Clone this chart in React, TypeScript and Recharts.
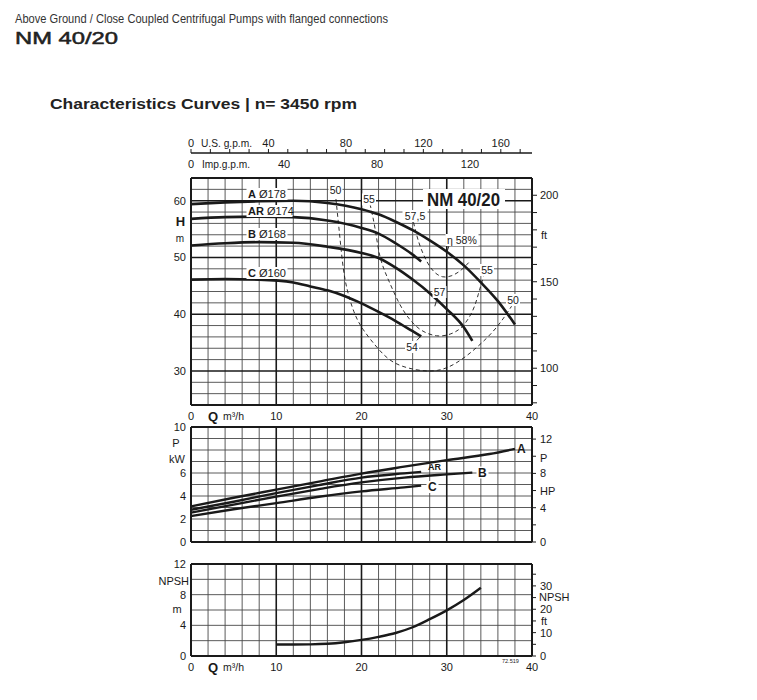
import React from 'react';
import { ComposedChart, Line, XAxis, YAxis, ReferenceLine } from 'recharts';

const FONT = '"Liberation Sans", Arial, Helvetica, sans-serif';
const INK = '#1a1a1a';
const GRID = '#474747';

// ---------- unit conversions for the secondary scales ----------
const M_TO_FT = 3.28084;
const M3H_TO_USGPM = 4.40287;
const M3H_TO_IMPGPM = 3.66615;
const KW_TO_HP = 1.34102;

// ---------- tick values ----------
const qTicks = [0, 10, 20, 30, 40];
const qGrid = [2, 4, 6, 8, 12, 14, 16, 18, 22, 24, 26, 28, 32, 34, 36, 38];
const qHeavy = [10, 20, 30];
const qFrame = [0, 40];

const hTicks = [30, 40, 50, 60];
const hGrid = [26, 28, 32, 34, 36, 38, 42, 44, 46, 48, 52, 54, 56, 58, 62];
const hHeavy = [30, 40, 50, 60];
const hFrame = [24, 64];
const ftTicks = [80, 90, 100, 110, 120, 130, 140, 150, 160, 170, 180, 190, 200];
const ftLabels = [100, 150, 200];

const usTicks = [0, 10, 20, 30, 40, 50, 60, 70, 80, 90, 100, 110, 120, 130, 140, 150, 160, 170];
const usLabels = [0, 40, 80, 120, 160];
const impTicks = [0, 40, 80, 120];

const pTicks = [0, 2, 4, 6, 10];
const pGrid = [1, 2, 3, 4, 5, 6, 7, 8, 9];
const pFrame = [0, 10];
const hpTicks = [0, 2, 4, 6, 8, 10, 12];
const hpLabels = [0, 4, 8, 12];

const nTicks = [0, 4, 8, 12];
const nGrid = [2, 4, 6, 8, 10];
const nFrame = [0, 12];
const nftTicks = [0, 5, 10, 15, 20, 25, 30, 35];
const nftLabels = [0, 10, 20, 30];

// ---------- head curves (Q m3/h, H m) ----------
const headA = [
  { q: 0, h: 59.4 }, { q: 4, h: 59.7 }, { q: 8, h: 59.9 }, { q: 12, h: 60.0 }, { q: 16, h: 59.6 },
  { q: 20, h: 58.5 }, { q: 22, h: 57.6 }, { q: 24, h: 56.3 }, { q: 26, h: 54.8 }, { q: 28, h: 53.0 },
  { q: 30, h: 51.0 }, { q: 32, h: 48.6 }, { q: 34, h: 45.6 }, { q: 36, h: 42.3 }, { q: 38, h: 38.2 },
];
const headAR = [
  { q: 0, h: 56.8 }, { q: 4, h: 57.1 }, { q: 8, h: 57.2 }, { q: 12, h: 57.1 }, { q: 16, h: 56.5 },
  { q: 20, h: 55.2 }, { q: 22, h: 54.2 }, { q: 24, h: 52.5 }, { q: 26, h: 50.5 }, { q: 27, h: 49.3 },
];
const headB = [
  { q: 0, h: 52.1 }, { q: 4, h: 52.5 }, { q: 8, h: 52.7 }, { q: 12, h: 52.6 }, { q: 16, h: 51.9 },
  { q: 20, h: 50.8 }, { q: 22, h: 49.9 }, { q: 24, h: 48.2 }, { q: 26, h: 46.1 }, { q: 28, h: 43.7 },
  { q: 30, h: 40.9 }, { q: 32, h: 37.7 }, { q: 33, h: 35.3 },
];
const headC = [
  { q: 0, h: 46.1 }, { q: 4, h: 46.2 }, { q: 8, h: 46.1 }, { q: 12, h: 45.6 }, { q: 14, h: 44.9 },
  { q: 16, h: 44.2 }, { q: 18, h: 43.2 }, { q: 20, h: 41.9 }, { q: 22, h: 40.4 }, { q: 24, h: 38.8 },
  { q: 26, h: 37.0 }, { q: 27, h: 36.1 },
];

// ---------- iso-efficiency curves ----------
const eff50 = [
  { q: 17.0, h: 60.3 }, { q: 17.5, h: 53.0 }, { q: 18.1, h: 45.9 }, { q: 19.1, h: 40.5 },
  { q: 20.2, h: 37.3 }, { q: 21.8, h: 34.2 }, { q: 23.8, h: 31.5 }, { q: 26.5, h: 30.2 },
  { q: 28.9, h: 30.1 }, { q: 31.2, h: 31.5 }, { q: 33.7, h: 34.4 }, { q: 35.9, h: 37.8 },
  { q: 37.6, h: 41.4 },
];
const eff55 = [
  { q: 21.0, h: 59.4 }, { q: 21.6, h: 55.0 }, { q: 22.2, h: 50.0 }, { q: 23.2, h: 45.9 },
  { q: 24.4, h: 42.0 }, { q: 25.6, h: 39.2 }, { q: 27.0, h: 37.2 }, { q: 28.8, h: 36.2 },
  { q: 30.4, h: 36.5 }, { q: 31.8, h: 37.8 }, { q: 33.0, h: 40.5 }, { q: 33.7, h: 43.5 },
  { q: 34.3, h: 46.6 },
];
const eff575 = [
  { q: 26.1, h: 56.2 }, { q: 26.5, h: 53.8 }, { q: 27.0, h: 51.5 }, { q: 27.7, h: 49.2 },
  { q: 28.5, h: 47.5 }, { q: 29.5, h: 46.6 }, { q: 30.6, h: 46.8 }, { q: 31.7, h: 47.8 },
  { q: 32.7, h: 49.3 },
];
const leader58 = [{ q: 30.3, h: 52.2 }, { q: 30.0, h: 50.9 }];
const leader57 = [{ q: 28.9, h: 42.9 }, { q: 28.6, h: 41.4 }];
const leader54 = [{ q: 26.5, h: 35.4 }, { q: 27.0, h: 36.2 }];

// ---------- power curves (Q m3/h, P kW) ----------
const powerA = [
  { q: 0, p: 3.1 }, { q: 5, p: 3.85 }, { q: 10, p: 4.55 }, { q: 15, p: 5.25 }, { q: 20, p: 5.95 },
  { q: 25, p: 6.55 }, { q: 30, p: 7.12 }, { q: 35, p: 7.65 }, { q: 38, p: 8.1 },
];
const powerAR = [
  { q: 0, p: 2.8 }, { q: 5, p: 3.5 }, { q: 10, p: 4.25 }, { q: 15, p: 4.95 }, { q: 20, p: 5.6 },
  { q: 25, p: 5.97 }, { q: 27, p: 6.1 },
];
const powerB = [
  { q: 0, p: 2.55 }, { q: 5, p: 3.25 }, { q: 10, p: 3.95 }, { q: 15, p: 4.6 }, { q: 20, p: 5.18 },
  { q: 25, p: 5.6 }, { q: 30, p: 5.88 }, { q: 33, p: 6.03 },
];
const powerC = [
  { q: 0, p: 2.25 }, { q: 5, p: 2.85 }, { q: 10, p: 3.38 }, { q: 15, p: 3.93 }, { q: 20, p: 4.4 },
  { q: 25, p: 4.75 }, { q: 27, p: 4.9 },
];

// ---------- NPSH (Q m3/h, NPSH m) ----------
const npsh = [
  { q: 10, n: 1.5 }, { q: 12, n: 1.5 }, { q: 14, n: 1.52 }, { q: 16, n: 1.6 }, { q: 18, n: 1.8 },
  { q: 20, n: 2.1 }, { q: 22, n: 2.5 }, { q: 24, n: 3.0 }, { q: 26, n: 3.75 }, { q: 28, n: 4.8 },
  { q: 30, n: 5.95 }, { q: 32, n: 7.3 }, { q: 34, n: 8.9 },
];

// head curve A re-expressed on the gallon scales (keeps those axes bound to data)
const headAUs = headA.map((d) => ({ g: d.q * M3H_TO_USGPM, h: d.h }));
const headAImp = headA.map((d) => ({ g: d.q * M3H_TO_IMPGPM, h: d.h }));

// ---------- helpers ----------
const gridLines = (xs: number[], ys: number[], heavyX: number[], heavyY: number[], frameX: number[], frameY: number[], yId: string) => [
  ...xs.map((v) => <ReferenceLine key={'gx' + v} xAxisId="q" yAxisId={yId} x={v} stroke={GRID} strokeWidth={0.9} />),
  ...ys.map((v) => <ReferenceLine key={'gy' + v} xAxisId="q" yAxisId={yId} y={v} stroke={GRID} strokeWidth={0.9} />),
  ...heavyX.map((v) => <ReferenceLine key={'hx' + v} xAxisId="q" yAxisId={yId} x={v} stroke={INK} strokeWidth={1.6} />),
  ...heavyY.map((v) => <ReferenceLine key={'hy' + v} xAxisId="q" yAxisId={yId} y={v} stroke={INK} strokeWidth={1.6} />),
  ...frameX.map((v) => <ReferenceLine key={'fx' + v} xAxisId="q" yAxisId={yId} x={v} stroke={INK} strokeWidth={2} />),
  ...frameY.map((v) => <ReferenceLine key={'fy' + v} xAxisId="q" yAxisId={yId} y={v} stroke={INK} strokeWidth={2} />),
];

const sideTick = (labels: number[], anchor: 'start' | 'end') => (props: any) => {
  const { x, y, payload } = props;
  if (!labels.includes(Math.round(payload.value))) return <g />;
  return (
    <text x={x} y={y} dy="0.36em" textAnchor={anchor} fontSize={11} fill={INK} fontFamily={FONT}>
      {payload.value}
    </text>
  );
};

const topTick = (labels: number[]) => (props: any) => {
  const { x, y, payload } = props;
  if (!labels.includes(Math.round(payload.value))) return <g />;
  return (
    <text x={x} y={y} textAnchor="middle" fontSize={11} fill={INK} fontFamily={FONT}>
      {payload.value}
    </text>
  );
};

const tickStyle = { fontSize: 11, fill: INK, fontFamily: FONT };

function Tag({ x, y, w, h = 12, anchor = 'start', size = 10.5, weight = 'normal', children }: any) {
  const left = anchor === 'middle' ? x - w / 2 : anchor === 'end' ? x - w : x;
  return (
    <g>
      <rect x={left - 1.5} y={y - h / 2} width={w + 3} height={h} fill="#fff" />
      <text x={x} y={y} dy="0.36em" textAnchor={anchor} fontSize={size} fontWeight={weight} fill={INK}>
        {children}
      </text>
    </g>
  );
}

function T({ x, y, anchor = 'start', size = 11, weight = 'normal', len, children }: any) {
  return (
    <text x={x} y={y} dy="0.36em" textAnchor={anchor} fontSize={size} fontWeight={weight} fill={INK}
      textLength={len} lengthAdjust={len ? 'spacingAndGlyphs' : undefined}>
      {children}
    </text>
  );
}

const curve = (data: any[], key: string, yId: string, k: string, width = 2.6) => (
  <Line key={k} xAxisId="q" yAxisId={yId} data={data} dataKey={key} type="monotone" stroke={INK}
    strokeWidth={width} dot={false} activeDot={false} isAnimationActive={false} />
);
const dashed = (data: any[], k: string) => (
  <Line key={k} xAxisId="q" yAxisId="m" data={data} dataKey="h" type="natural" stroke={INK}
    strokeWidth={0.9} strokeDasharray="4 3" dot={false} activeDot={false} isAnimationActive={false} />
);
const leader = (data: any[], k: string) => (
  <Line key={k} xAxisId="q" yAxisId="m" data={data} dataKey="h" type="linear" stroke={INK}
    strokeWidth={0.9} dot={false} activeDot={false} isAnimationActive={false} />
);

export default function App() {
  return (
    <div style={{ position: 'absolute', left: 0, top: 0, width: 757, height: 700, background: '#fff', fontFamily: FONT }}>
      {/* Head chart */}
      <div style={{ position: 'absolute', left: 141, top: 120 }}>
        <ComposedChart width={430} height={305} margin={{ top: 8, right: 9, left: 10, bottom: 0 }}>
          <XAxis xAxisId="imp" orientation="top" dataKey="g" type="number" domain={[0, 40 * M3H_TO_IMPGPM]} allowDataOverflow
            ticks={impTicks} interval={0} height={25} axisLine={false} tickLine={false} tickSize={0} tickMargin={10}
            tick={topTick(impTicks)} />
          <XAxis xAxisId="us" orientation="top" dataKey="g" type="number" domain={[0, 40 * M3H_TO_USGPM]} allowDataOverflow
            ticks={usTicks} interval={0} height={25} axisLine={{ stroke: INK, strokeWidth: 1.6 }}
            tickLine={{ stroke: INK }} tickSize={4} tickMargin={2} tick={topTick(usLabels)} />
          <XAxis xAxisId="q" dataKey="q" type="number" domain={[0, 40]} allowDataOverflow ticks={qTicks} interval={0}
            height={20} axisLine={false} tickLine={false} tickSize={0} tickMargin={7} tick={tickStyle} />
          <YAxis yAxisId="m" type="number" domain={[24, 64]} allowDataOverflow ticks={hTicks} interval={0} width={40}
            axisLine={false} tickLine={false} tickSize={0} tickMargin={5} tick={tickStyle} />
          <YAxis yAxisId="ft" orientation="right" type="number" domain={[24 * M_TO_FT, 64 * M_TO_FT]} allowDataOverflow
            ticks={ftTicks} interval={0} width={30} axisLine={false} tickLine={{ stroke: INK }} tickSize={5} tickMargin={3}
            tick={sideTick(ftLabels, 'start')} />
          {gridLines(qGrid, hGrid, qHeavy, hHeavy, qFrame, hFrame, 'm')}
          <Line xAxisId="us" yAxisId="m" data={headAUs} dataKey="h" stroke="transparent" strokeWidth={0}
            dot={false} activeDot={false} isAnimationActive={false} />
          <Line xAxisId="imp" yAxisId="m" data={headAImp} dataKey="h" stroke="transparent" strokeWidth={0}
            dot={false} activeDot={false} isAnimationActive={false} />
          {dashed(eff50, 'e50')}
          {dashed(eff55, 'e55')}
          {dashed(eff575, 'e575')}
          {leader(leader58, 'l58')}
          {leader(leader57, 'l57')}
          {leader(leader54, 'l54')}
          {curve(headC, 'h', 'm', 'hc')}
          {curve(headB, 'h', 'm', 'hb')}
          {curve(headAR, 'h', 'm', 'har')}
          {curve(headA, 'h', 'm', 'ha')}
        </ComposedChart>
      </div>

      {/* Power chart */}
      <div style={{ position: 'absolute', left: 141, top: 420 }}>
        <ComposedChart width={430} height={132} margin={{ top: 7, right: 9, left: 10, bottom: 10 }}>
          <XAxis xAxisId="q" dataKey="q" type="number" domain={[0, 40]} allowDataOverflow hide />
          <YAxis yAxisId="p" type="number" domain={[0, 10]} allowDataOverflow ticks={pTicks} interval={0} width={40}
            axisLine={false} tickLine={false} tickSize={0} tickMargin={5} tick={tickStyle} />
          <YAxis yAxisId="hp" orientation="right" type="number" domain={[0, 10 * KW_TO_HP]} allowDataOverflow
            ticks={hpTicks} interval={0} width={30} axisLine={false} tickLine={{ stroke: INK }} tickSize={4} tickMargin={4}
            tick={sideTick(hpLabels, 'start')} />
          {gridLines(qGrid, pGrid, qHeavy, [], qFrame, pFrame, 'p')}
          {curve(powerC, 'p', 'p', 'pc', 2.4)}
          {curve(powerB, 'p', 'p', 'pb', 2.4)}
          {curve(powerAR, 'p', 'p', 'par', 2.4)}
          {curve(powerA, 'p', 'p', 'pa', 2.4)}
        </ComposedChart>
      </div>

      {/* NPSH chart */}
      <div style={{ position: 'absolute', left: 141, top: 557 }}>
        <ComposedChart width={430} height={119} margin={{ top: 7, right: 9, left: 10, bottom: 0 }}>
          <XAxis xAxisId="q" dataKey="q" type="number" domain={[0, 40]} allowDataOverflow ticks={qTicks} interval={0}
            height={20} axisLine={false} tickLine={false} tickSize={0} tickMargin={7} tick={tickStyle} />
          <YAxis yAxisId="n" type="number" domain={[0, 12]} allowDataOverflow ticks={nTicks} interval={0} width={40}
            axisLine={false} tickLine={false} tickSize={0} tickMargin={5} tick={tickStyle} />
          <YAxis yAxisId="nft" orientation="right" type="number" domain={[0, 12 * M_TO_FT]} allowDataOverflow
            ticks={nftTicks} interval={0} width={30} axisLine={false} tickLine={{ stroke: INK }} tickSize={4} tickMargin={4}
            tick={sideTick(nftLabels, 'start')} />
          {gridLines(qGrid, nGrid, qHeavy, [], qFrame, nFrame, 'n')}
          {curve(npsh, 'n', 'n', 'np', 2.4)}
        </ComposedChart>
      </div>

      {/* Text overlay */}
      <svg width={757} height={700} style={{ position: 'absolute', left: 0, top: 0, pointerEvents: 'none' }} fontFamily={FONT}>
        <text x={15} y={22.5} fontSize={12.5} fill="#333" textLength={373} lengthAdjust="spacingAndGlyphs">
          Above Ground / Close Coupled Centrifugal Pumps with flanged connections
        </text>
        <text x={15} y={43.5} fontSize={17} fill="#222" stroke="#222" strokeWidth={0.5} textLength={103} lengthAdjust="spacingAndGlyphs">
          NM 40/20
        </text>
        <text x={50} y={109} fontSize={14.5} fontWeight="bold" fill="#222" textLength={307} lengthAdjust="spacingAndGlyphs">
          Characteristics Curves | n= 3450 rpm
        </text>

        {/* top scales */}
        <T x={201} y={143} size={11} len={51}>U.S. g.p.m.</T>
        <T x={202} y={164} size={11} len={48}>Imp.g.p.m.</T>

        {/* head panel side labels */}
        <T x={180.5} y={221} anchor="middle" size={13} weight="bold">H</T>
        <T x={180} y={238} anchor="middle" size={10}>m</T>
        <T x={541} y={235}>ft</T>

        {/* Q axis names */}
        <T x={208} y={416} size={13} weight="bold">Q</T>
        <T x={223} y={416} size={10.5}>m³/h</T>
        <T x={208} y={667} size={13} weight="bold">Q</T>
        <T x={223} y={667} size={10.5}>m³/h</T>
        <text x={502} y={663} fontSize={5.5} fill={INK}>72.519</text>

        {/* head curve names */}
        <Tag x={248} y={194} w={38} size={11}><tspan fontWeight="bold">A</tspan> Ø178</Tag>
        <Tag x={248} y={211} w={43} size={11}><tspan fontWeight="bold">AR</tspan> Ø174</Tag>
        <Tag x={248} y={234} w={38} size={11}><tspan fontWeight="bold">B</tspan> Ø168</Tag>
        <Tag x={248} y={273} w={38} size={11}><tspan fontWeight="bold">C</tspan> Ø160</Tag>
        <g>
          <rect x={423} y={189} width={82} height={20} fill="#fff" />
          <text x={427} y={206} fontSize={19} fontWeight="bold" fill={INK} textLength={73} lengthAdjust="spacingAndGlyphs">NM 40/20</text>
        </g>

        {/* efficiency labels */}
        <Tag x={335.5} y={190.5} w={11} anchor="middle">50</Tag>
        <Tag x={369} y={199.5} w={11} anchor="middle">55</Tag>
        <Tag x={415} y={216} w={22} anchor="middle">57,5</Tag>
        <Tag x={447} y={240} w={30}>η 58%</Tag>
        <Tag x={487} y={270} w={11} anchor="middle">55</Tag>
        <Tag x={513} y={300} w={11} anchor="middle">50</Tag>
        <Tag x={439.5} y={292} w={11} anchor="middle">57</Tag>
        <Tag x={412} y={347} w={11} anchor="middle">54</Tag>

        {/* power panel labels */}
        <T x={176} y={443.5} anchor="middle">P</T>
        <T x={177} y={459.5} anchor="middle">kW</T>
        <T x={540} y={458}>P</T>
        <T x={540} y={491}>HP</T>
        <T x={517} y={448.5} size={12} weight="bold">A</T>
        <T x={428} y={467} size={9} weight="bold">AR</T>
        <Tag x={478} y={472.5} w={9} size={12} weight="bold">B</Tag>
        <Tag x={428} y={487} w={9} size={12} weight="bold">C</Tag>

        {/* NPSH panel labels */}
        <T x={189} y={581} anchor="end">NPSH</T>
        <T x={177} y={609} anchor="middle">m</T>
        <T x={539} y={597}>NPSH</T>
        <T x={541} y={621}>ft</T>
      </svg>
    </div>
  );
}
